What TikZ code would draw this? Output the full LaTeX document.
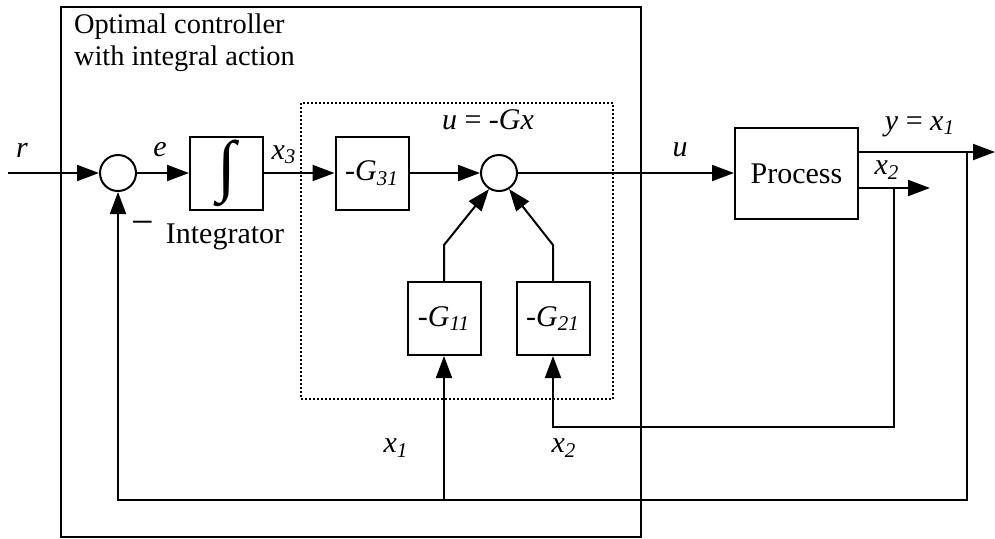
\documentclass[tikz,border=0pt]{standalone}
\usepackage{fontspec}
\setmainfont{Liberation Serif}
\usetikzlibrary{arrows.meta,calc}
\newcommand\lbl[2]{\textit{#1}\textsubscript{\textit{#2}}}
\begin{document}
\begin{tikzpicture}[x=0.5pt,y=-0.5pt,
  line width=1pt,
  font=\fontsize{15}{18}\selectfont,
  arr/.style={-{Triangle[length=11pt,width=8pt]}},
  blk/.style={draw,minimum width=36.5pt,minimum height=36.5pt,inner sep=0pt},
  sumc/.style={draw,circle,minimum size=18pt,inner sep=0pt},
  lab/.style={inner sep=0pt},
]
\useasboundingbox (0,0) rectangle (995,538);
% frames
\node[draw,anchor=north west,minimum width=290pt,minimum height=265pt,inner sep=0pt] (ctrl) at (60,6) {};
\node[draw,dash pattern=on 1pt off 1pt,line width=0.8pt,anchor=north west,minimum width=156pt,minimum height=148pt,inner sep=0pt] (gbox) at (300,102) {};
% blocks
\node[sumc] (s1) at (118,173) {};
\node[blk] (int) at (226.5,173) {\fontsize{34}{34}\selectfont ∫};
\node[blk] (g31) at (372,173) {\lbl{-G}{31}};
\node[sumc] (s2) at (499,173) {};
\node[blk] (g11) at (444,318.5) {\lbl{-G}{11}};
\node[blk] (g21) at (553,318.5) {\lbl{-G}{21}};
\node[draw,minimum width=61.5pt,minimum height=45.5pt,inner sep=0pt] (proc) at (796.5,173.5) {Process};
% coordinates
\coordinate (rin) at (8,173);
\coordinate (yout) at (995,152);
\coordinate (x2out) at (930,188);
\coordinate (ytap) at (967,152);
\coordinate (x2tap) at (894,188);
\coordinate (k1) at (444,245);
\coordinate (k2) at (553,245);
\coordinate (fb1) at (967,500);
\coordinate (fb2) at (894,427);
% connectors
\draw[arr] (rin) -- (s1);
\draw[arr] (s1) -- (int);
\draw[arr] (int) -- (g31);
\draw[arr] (g31) -- (s2);
\draw[arr] (s2) -- (proc.west |- s2);
\draw[arr] (g11) -- (k1) -- (s2.238);
\draw[arr] (g21) -- (k2) -- (s2.302);
\draw[arr] (proc.east |- yout) -- (yout);
\draw[arr] (proc.east |- x2out) -- (x2out);
\draw[arr] (ytap) |- (s1 |- fb1) -- (s1);
\draw[arr] (g11 |- fb1) -- (g11);
\draw[arr] (x2tap) |- (g21 |- fb2) -- (g21);
% labels
\node[lab] (lr) at (22,150) {\textit{r}};
\node[lab] (le) at (160,150) {\textit{e}};
\node[lab] (lx3) at (284,155) {\lbl{x}{3}};
\node[lab,anchor=base] (lminus) at (143,235) {\fontsize{20}{20}\selectfont −};
\node[lab,anchor=base] (lint) at (225,243) {Integrator};
\node[lab] (lu1) at (488,120) {\textit{u} = \textit{-Gx}};
\node[lab] (lu) at (680,150) {\textit{u}};
\node[lab] (ly) at (920,127) {\textit{y} = \lbl{x}{1}};
\node[lab] (lx2a) at (887,170) {\lbl{x}{2}};
\node[lab] (lx1) at (396,448) {\lbl{x}{1}};
\node[lab] (lx2b) at (564,448) {\lbl{x}{2}};
\node[lab,anchor=base west,font=\fontsize{14.2}{17}\selectfont] (t1) at (73,33) {Optimal controller};
\node[lab,anchor=base west,font=\fontsize{14.2}{17}\selectfont] (t2) at (73,65) {with integral action};
\end{tikzpicture}
\end{document}
